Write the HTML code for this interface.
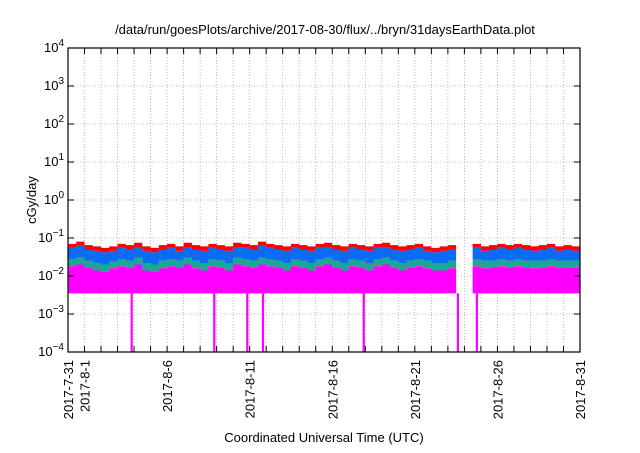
<!DOCTYPE html>
<html><head><meta charset="utf-8"><style>
body{margin:0;background:#fff;}
svg text{font-family:"Liberation Sans",sans-serif;fill:#000;}
</style></head><body>
<svg id="chart" width="640" height="448" viewBox="0 0 640 448" xmlns="http://www.w3.org/2000/svg">
<rect width="640" height="448" fill="#fff"/>
<text x="325" y="34" font-size="13" text-anchor="middle">/data/run/goesPlots/archive/2017-08-30/flux/../bryn/31daysEarthData.plot</text>
<text x="0" y="0" font-size="13" text-anchor="middle" transform="translate(36,200) rotate(-90)">cGy/day</text>
<text x="324" y="442" font-size="13" text-anchor="middle">Coordinated Universal Time (UTC)</text>
<g id="grid"></g>
<g id="series"></g>
<g id="axes"></g>
</svg>
<script>
const xTickDays=[0,1,6,11,16,21,26,31];
const xTickLabels=["2017-7-31","2017-8-1","2017-8-6","2017-8-11","2017-8-16","2017-8-21","2017-8-26","2017-8-31"];
const yTickExps=[-4,-3,-2,-1,0,1,2,3,4];
// half-day bins from 2017-7-31 00:00 (62 bins); null = data gap
const redTop=[0.07,0.08,0.065,0.06,0.055,0.06,0.07,0.065,0.075,0.06,0.055,0.065,0.07,0.06,0.075,0.065,0.06,0.07,0.065,0.06,0.075,0.07,0.065,0.08,0.07,0.065,0.06,0.07,0.065,0.06,0.07,0.075,0.065,0.06,0.07,0.065,0.06,0.07,0.075,0.065,0.06,0.065,0.07,0.06,0.055,0.06,0.065,null,null,0.07,0.06,0.065,0.07,0.065,0.07,0.065,0.06,0.065,0.07,0.06,0.065,0.06];
const blueTop=[0.055,0.062,0.05,0.046,0.042,0.046,0.055,0.05,0.058,0.046,0.042,0.05,0.055,0.046,0.058,0.05,0.046,0.055,0.05,0.046,0.058,0.055,0.05,0.062,0.055,0.05,0.046,0.055,0.05,0.046,0.055,0.058,0.05,0.046,0.055,0.05,0.046,0.055,0.058,0.05,0.046,0.05,0.055,0.046,0.042,0.046,0.05,null,null,0.055,0.046,0.05,0.055,0.05,0.055,0.05,0.046,0.05,0.055,0.046,0.05,0.046];
const greenTop=[0.028,0.03,0.025,0.022,0.02,0.024,0.027,0.025,0.03,0.022,0.02,0.025,0.027,0.025,0.03,0.025,0.022,0.027,0.025,0.022,0.03,0.027,0.025,0.03,0.027,0.025,0.022,0.027,0.025,0.022,0.027,0.03,0.025,0.022,0.027,0.025,0.022,0.027,0.03,0.025,0.022,0.025,0.027,0.025,0.022,0.022,0.025,null,null,0.027,0.025,0.025,0.027,0.025,0.027,0.025,0.025,0.025,0.027,0.025,0.025,0.025];
const magentaTop=[0.018,0.02,0.017,0.014,0.013,0.016,0.018,0.017,0.02,0.014,0.013,0.016,0.018,0.017,0.02,0.016,0.014,0.018,0.017,0.014,0.02,0.018,0.017,0.02,0.018,0.017,0.014,0.018,0.017,0.014,0.018,0.02,0.017,0.014,0.018,0.017,0.014,0.018,0.02,0.017,0.014,0.017,0.018,0.016,0.014,0.014,0.016,null,null,0.018,0.016,0.017,0.018,0.017,0.018,0.017,0.016,0.017,0.018,0.017,0.017,0.017];
const magentaBottom=[0.0035,0.0035,0.0035,0.0035,0.0035,0.0035,0.0035,0.0035,0.0035,0.0035,0.0035,0.0035,0.0035,0.0035,0.0035,0.0035,0.0035,0.0035,0.0035,0.0035,0.0035,0.0035,0.0035,0.0035,0.0035,0.0035,0.0035,0.0035,0.0035,0.0035,0.0035,0.0035,0.0035,0.0035,0.0035,0.0035,0.0035,0.0035,0.0035,0.0035,0.0035,0.0035,0.0035,0.0035,0.0035,0.0035,0.0035,null,null,0.0035,0.0035,0.0035,0.0035,0.0035,0.0035,0.0035,0.0035,0.0035,0.0035,0.0035,0.0035,0.0035];
// days (from 2017-7-31) where magenta dips to the bottom axis
const dipDays=[3.85,8.85,10.85,11.8,17.9,23.6,24.75];

const L=68,R=580,T=48,B=352;
const NS='http://www.w3.org/2000/svg';
function xs(d){return L+(d/31)*(R-L);}
function ys(v){return B-(Math.log10(v)+4)/8*(B-T);}
function mk(tag,attrs,parent){const e=document.createElementNS(NS,tag);for(const k in attrs)e.setAttribute(k,attrs[k]);parent.appendChild(e);return e;}
const grid=document.getElementById('grid'),ser=document.getElementById('series'),ax=document.getElementById('axes');

for(let d=1;d<31;d++){const g=mk('line',{x1:xs(d),x2:xs(d),y1:T,y2:B,stroke:'#aaa','stroke-width':0.8,'stroke-dasharray':'1,2'},grid);

}
yTickExps.forEach(e=>{if(e>-4&&e<4){const g=mk('line',{x1:L,x2:R,y1:ys(Math.pow(10,e)),y2:ys(Math.pow(10,e)),stroke:'#aaa','stroke-width':0.8,'stroke-dasharray':'1,2'},grid);

}});

function band(top,bot,color,name){
  const n=top.length;let segs=[],cur=[];
  for(let i=0;i<n;i++){if(top[i]==null){if(cur.length)segs.push(cur);cur=[];}else cur.push(i);}
  if(cur.length)segs.push(cur);
  segs.forEach(s=>{let up='',dn='';
    s.forEach((i,k)=>{const x0=xs(i/2),x1=xs((i+1)/2);up+=(k?'L':'M')+x0+','+ys(top[i])+'L'+x1+','+ys(top[i]);});
    for(let k=s.length-1;k>=0;k--){const i=s[k];const yb=typeof bot==='number'?ys(bot):ys(bot[i]);dn+='L'+xs((i+1)/2)+','+yb+'L'+xs(i/2)+','+yb;}
    const p=mk('path',{d:up+dn+'Z',fill:color},ser);
    
    });
}
band(redTop,blueTop,'#ff0000','red-series');
band(blueTop,greenTop,'#0a6cf5','blue-series');
band(greenTop,magentaTop,'#1aa891','green-series');
band(magentaTop,magentaBottom,'#ff00ff','magenta-series');
dipDays.forEach(d=>{const r=mk('rect',{x:xs(d)-1,y:ys(0.0035),width:2.2,height:B-ys(0.0035),fill:'#ff00ff'},ser);

});

const frame=mk('rect',{x:L,y:T,width:R-L,height:B-T,fill:'none',stroke:'#000','stroke-width':1.2},ax);


for(let d=0;d<=31;d++){const x=xs(d);
  const t1=mk('line',{x1:x,x2:x,y1:B,y2:B-6,stroke:'#000'},ax);
  
  
  const t2=mk('line',{x1:x,x2:x,y1:T,y2:T+6,stroke:'#000'},ax);
  
  }
xTickDays.forEach((d,i)=>{const x=xs(d);const t=mk('text',{x:0,y:0,'font-size':13,'text-anchor':'end',transform:'translate('+(x+5)+','+(B+8)+') rotate(-90)'},ax);
  t.textContent=xTickLabels[i];
  
  });
yTickExps.forEach(e=>{const y=ys(Math.pow(10,e));
  const l=mk('line',{x1:L,x2:L+6,y1:y,y2:y,stroke:'#000'},ax);
  
  
  const l2=mk('line',{x1:R,x2:R-6,y1:y,y2:y,stroke:'#000'},ax);
  
  
  const t=mk('text',{x:L-4,y:y+4,'font-size':13,'text-anchor':'end'},ax);
  
  
  const base=document.createElementNS(NS,'tspan');base.textContent='10';t.appendChild(base);
  const sup=document.createElementNS(NS,'tspan');sup.setAttribute('dy','-6');sup.setAttribute('font-size','10');sup.textContent=String(e).replace('-','\u2212');t.appendChild(sup);});
</script>
</body></html>
